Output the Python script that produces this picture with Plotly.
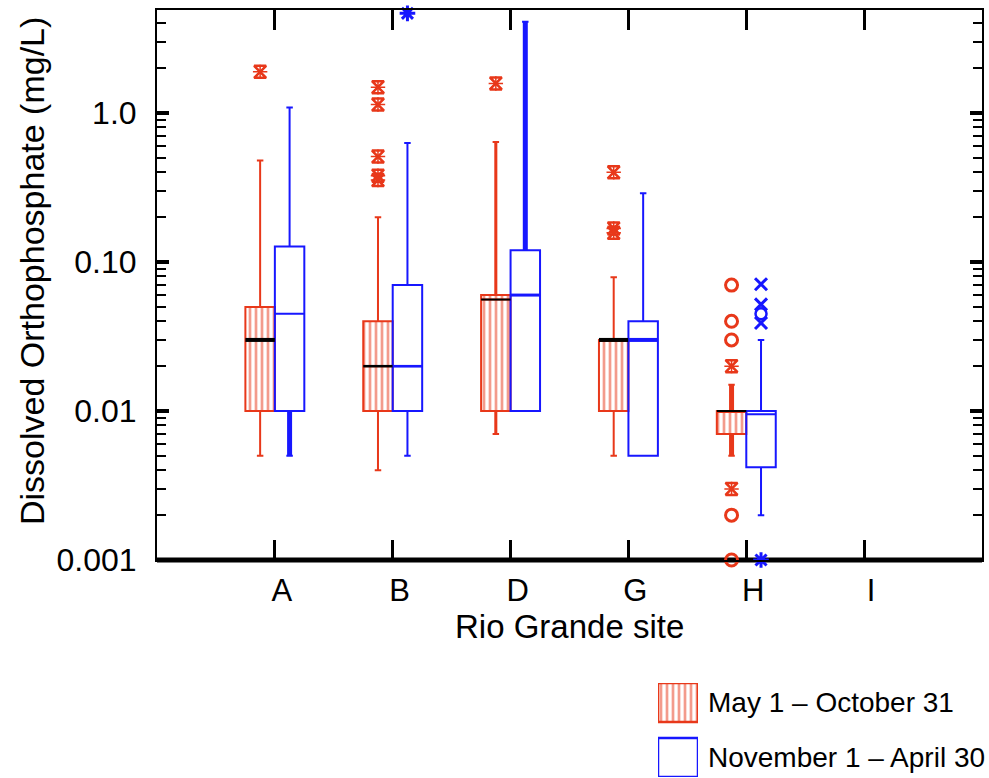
import plotly.graph_objects as go

# ---------------- data ----------------
sites = ["A", "B", "D", "G", "H", "I"]

# May 1 - October 31 (red, patterned)
summer_lower = [0.005, 0.004, 0.007, 0.005, 0.005, None]
summer_q1 = [0.010, 0.010, 0.010, 0.010, 0.007, None]
summer_median = [0.030, 0.020, 0.056, 0.030, 0.010, None]
summer_q3 = [0.050, 0.040, 0.060, 0.030, 0.010, None]
summer_upper = [0.48, 0.20, 0.64, 0.079, 0.015, None]

# November 1 - April 30 (blue, open)
winter_lower = [0.005, 0.005, 0.010, 0.005, 0.002, None]
winter_q1 = [0.010, 0.010, 0.010, 0.005, 0.0042, None]
winter_median = [0.045, 0.020, 0.060, 0.030, 0.0095, None]
winter_q3 = [0.127, 0.070, 0.120, 0.040, 0.010, None]
winter_upper = [1.09, 0.63, 4.1, 0.29, 0.030, None]

# outliers
summer_star_site = ["A", "B", "B", "B", "B", "B", "D", "G", "G", "G", "H", "H"]
summer_star_value = [1.89, 1.49, 1.14, 0.51, 0.38, 0.355, 1.58, 0.40, 0.168, 0.157, 0.020, 0.003]
summer_circle_site = ["H", "H", "H", "H", "H"]
summer_circle_value = [0.070, 0.040, 0.030, 0.002, 0.001]
winter_star_site = ["B", "H"]
winter_star_value = [4.67, 0.001]
winter_x_site = ["H", "H", "H"]
winter_x_value = [0.071, 0.052, 0.039]
winter_circle_site = ["H"]
winter_circle_value = [0.045]

legend_labels = ["May 1 \u2013 October 31", "November 1 \u2013 April 30"]

# ---------------- styles ----------------
RED = "#e8381a"
BLUE = "#1717ff"
FONT = "Liberation Sans, Arial, Helvetica, sans-serif"
OFF = 0.125
BW = 0.25
summer_median_lw = [4, 2.5, 2, 4, 2]
winter_median_lw = [2, 2.5, 3, 4, 2]
summer_whisker_lw = [(1.5, 1.5), (2, 2), (3, 3), (2, 2), (5, 5)]
winter_whisker_lw = [(5, 2), (2, 2), (2, 5), (2, 2), (2, 2)]

pos = {s: i + 1 for i, s in enumerate(sites)}
idx = [i for i, v in enumerate(summer_q1) if v is not None]

fig = go.Figure()

# patterned fill of the summer boxes
fig.add_trace(go.Bar(
    x=[pos[sites[i]] - OFF for i in idx],
    y=[summer_q3[i] - summer_q1[i] for i in idx],
    base=[summer_q1[i] for i in idx],
    width=BW,
    marker=dict(color="white", line=dict(width=0),
                pattern=dict(shape="|", fgcolor=RED, bgcolor="white", size=6, solidity=0.45)),
    showlegend=False, hoverinfo="skip"))

for season, (lo, q1, med, q3, hi, col, sign) in {
    "summer": (summer_lower, summer_q1, summer_median, summer_q3, summer_upper, RED, -1),
    "winter": (winter_lower, winter_q1, winter_median, winter_q3, winter_upper, BLUE, 1),
}.items():
    fig.add_trace(go.Box(
        x=[pos[sites[i]] + sign * OFF for i in idx],
        lowerfence=[lo[i] for i in idx], q1=[q1[i] for i in idx],
        median=[med[i] for i in idx], q3=[q3[i] for i in idx],
        upperfence=[hi[i] for i in idx],
        width=BW, whiskerwidth=0.22, boxpoints=False,
        line=dict(color=col, width=2), fillcolor="rgba(0,0,0,0)",
        showlegend=False, hoverinfo="skip"))

# thick whiskers
for (lo, q1, q3, hi, lws, col, sign) in [
    (summer_lower, summer_q1, summer_q3, summer_upper, summer_whisker_lw, RED, -1),
    (winter_lower, winter_q1, winter_q3, winter_upper, winter_whisker_lw, BLUE, 1),
]:
    for i in idx:
        xx = pos[sites[i]] + sign * OFF
        lw_lo, lw_hi = lws[i]
        if lw_lo > 2 and lo[i] < q1[i]:
            fig.add_trace(go.Scatter(x=[xx, xx], y=[lo[i], q1[i]], mode="lines",
                                     line=dict(color=col, width=lw_lo), showlegend=False, hoverinfo="skip"))
        if lw_hi > 2 and hi[i] > q3[i]:
            fig.add_trace(go.Scatter(x=[xx, xx], y=[q3[i], hi[i]], mode="lines",
                                     line=dict(color=col, width=lw_hi), showlegend=False, hoverinfo="skip"))

# median lines
for i in idx:
    c = pos[sites[i]] - OFF
    fig.add_trace(go.Scatter(x=[c - BW / 2, c + BW / 2], y=[summer_median[i]] * 2, mode="lines",
                             line=dict(color="black", width=summer_median_lw[i]),
                             showlegend=False, hoverinfo="skip"))
    if winter_median_lw[i] > 2:
        c = pos[sites[i]] + OFF
        fig.add_trace(go.Scatter(x=[c - BW / 2, c + BW / 2], y=[winter_median[i]] * 2, mode="lines",
                                 line=dict(color=BLUE, width=winter_median_lw[i]),
                                 showlegend=False, hoverinfo="skip"))

# outliers
def add_pts(site_list, vals, sign, col, symbol, size, lw):
    fig.add_trace(go.Scatter(
        x=[pos[s] + sign * OFF for s in site_list], y=vals, mode="markers",
        marker=dict(symbol=symbol, size=size, color=col, line=dict(color=col, width=lw)),
        showlegend=False, hoverinfo="skip", cliponaxis=False))

add_pts(summer_star_site, summer_star_value, -1, RED, "hourglass-open", 12, 2.5)
add_pts(summer_star_site, summer_star_value, -1, RED, "asterisk-open", 12, 1.5)
add_pts(summer_circle_site, summer_circle_value, -1, RED, "circle-open", 12, 3)
add_pts(winter_star_site, winter_star_value, 1, BLUE, "asterisk-open", 13, 3)
add_pts(winter_x_site, winter_x_value, 1, BLUE, "x-thin-open", 12, 3)
add_pts(winter_circle_site, winter_circle_value, 1, BLUE, "circle-open", 11, 2.5)

# legend swatches (inset axes)
fig.add_trace(go.Bar(
    x=[1], y=[1.585], base=[0], orientation="h", width=0.83, xaxis="x2", yaxis="y2",
    marker=dict(color="white", line=dict(color=RED, width=2.5),
                pattern=dict(shape="|", fgcolor=RED, bgcolor="white", size=6, solidity=0.45)),
    showlegend=False, hoverinfo="skip"))
fig.add_trace(go.Bar(
    x=[1], y=[0.415], base=[0], orientation="h", width=0.83, xaxis="x2", yaxis="y2",
    marker=dict(color="white", line=dict(color=BLUE, width=2.5)),
    showlegend=False, hoverinfo="skip"))

W, H = 989, 778
minor_vals = [m * 10 ** e for e in range(-3, 1) for m in range(2, 10) if m * 10 ** e < 5]

fig.update_layout(
    width=W, height=H, margin=dict(l=0, r=0, t=0, b=0),
    paper_bgcolor="white", plot_bgcolor="white",
    barmode="overlay", boxmode="overlay", showlegend=False,
    font=dict(family=FONT, color="black"),
    xaxis=dict(domain=[157 / W, 982 / W], range=[0, 7], tickmode="array",
               tickvals=[pos[s] for s in sites], ticktext=sites,
               ticks="inside", ticklen=20, tickwidth=2.5, tickcolor="black",
               mirror="ticks", showline=True, linecolor="black", linewidth=2,
               showgrid=False, zeroline=False, automargin=False,
               tickfont=dict(size=31, family=FONT, color="black"),
               ticklabelstandoff=2, ticklabelshift=7),
    yaxis=dict(type="log", domain=[1 - 560 / H, 1 - 9.5 / H], range=[-3, 0.695],
               tickmode="array", tickvals=[0.001, 0.01, 0.1, 1],
               ticktext=["0.001", "0.01", "0.10", "1.0"],
               ticks="inside", ticklen=12, tickwidth=4, tickcolor="black",
               mirror="ticks", showline=True, linecolor="black", linewidth=2,
               showgrid=False, zeroline=False, automargin=False,
               tickfont=dict(size=32, family=FONT, color="black"),
               ticklabelstandoff=12,
               minor=dict(tickmode="array", tickvals=minor_vals, ticks="inside",
                          ticklen=9, tickwidth=2, tickcolor="black", showgrid=False)),
    xaxis2=dict(domain=[658 / W, 698 / W], range=[0, 1], visible=False, fixedrange=True),
    yaxis2=dict(domain=[1 - 777 / H, 1 - 683 / H], range=[0, 2], visible=False,
                fixedrange=True, anchor="x2"),
    shapes=[dict(type="line", xref="x domain", yref="y domain", x0=0, x1=1, y0=0, y1=0,
                 line=dict(color="black", width=5), layer="below")],
    annotations=[
        dict(text="Dissolved Orthophosphate (mg/L)", xref="paper", yref="paper",
             x=32 / W, y=1 - 271 / H, textangle=-90, showarrow=False,
             xanchor="center", yanchor="middle", font=dict(size=34, family=FONT)),
        dict(text="Rio Grande site", xref="paper", yref="paper",
             x=569 / W, y=1 - 626 / H, showarrow=False,
             xanchor="center", yanchor="middle", font=dict(size=33, family=FONT)),
        dict(text=legend_labels[0], xref="paper", yref="paper",
             x=706 / W, y=1 - 702 / H, showarrow=False,
             xanchor="left", yanchor="middle", font=dict(size=28, family=FONT)),
        dict(text=legend_labels[1], xref="paper", yref="paper",
             x=706 / W, y=1 - 757 / H, showarrow=False,
             xanchor="left", yanchor="middle", font=dict(size=28, family=FONT)),
    ],
)
fig.update_layout(xaxis2_anchor="y2")

fig.write_html("out.html")
